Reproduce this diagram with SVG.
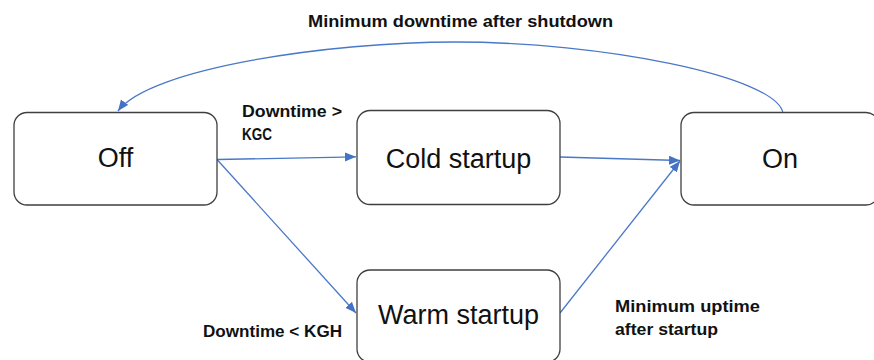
<svg xmlns="http://www.w3.org/2000/svg" width="874" height="360" viewBox="0 0 874 360">
  <style>
    .node rect { fill: #ffffff; stroke: #3f3f3f; stroke-width: 1.3; }
    .node text { font-family: "Liberation Sans", Arial, sans-serif; font-size: 27px; fill: #111111; text-anchor: middle; }
    .edge { fill: none; stroke: #4a78c8; stroke-width: 1.3; }
    .lbl { font-family: "Liberation Sans", Arial, sans-serif; font-size: 17px; font-weight: bold; fill: #111111; }
  </style>
  <defs>
    <marker id="arrow" markerUnits="userSpaceOnUse" markerWidth="12" markerHeight="10" refX="11" refY="4.5" orient="auto">
      <path d="M0,0 L11,4.5 L0,9 z" fill="#4472c4"/>
    </marker>
  </defs>
  <rect width="874" height="360" fill="#ffffff"/>

  <g id="connectors">
    <path class="edge" d="M217,159.5 L356,156.8" marker-end="url(#arrow)"/>
    <path class="edge" d="M217,159.5 L356,313" marker-end="url(#arrow)"/>
    <path class="edge" d="M560,157 L680,160.5" marker-end="url(#arrow)"/>
    <path class="edge" d="M560,313 L680,161" marker-end="url(#arrow)"/>
    <path class="edge" d="M783,113 C776,76 600,42 455,42 C330,42 150,68 118,111" marker-end="url(#arrow)"/>
  </g>

  <g id="labels">
    <text class="lbl" x="308" y="27" font-size="18" textLength="305" lengthAdjust="spacingAndGlyphs">Minimum downtime after shutdown</text>
    <text class="lbl" x="242" y="117" textLength="100" lengthAdjust="spacingAndGlyphs">Downtime &gt;</text>
    <text class="lbl" x="242" y="140" textLength="30" lengthAdjust="spacingAndGlyphs">KGC</text>
    <text class="lbl" x="203" y="337" textLength="139" lengthAdjust="spacingAndGlyphs">Downtime &lt; KGH</text>
    <text class="lbl" x="615" y="312" textLength="145" lengthAdjust="spacingAndGlyphs">Minimum uptime</text>
    <text class="lbl" x="615" y="335" textLength="103" lengthAdjust="spacingAndGlyphs">after startup</text>
  </g>

  <g id="node-off" class="node">
    <rect x="14" y="112.5" width="203" height="92.5" rx="13"/>
    <text x="115.5" y="167">Off</text>
  </g>
  <g id="node-cold" class="node">
    <rect x="357" y="110.5" width="203" height="94" rx="13"/>
    <text x="458.5" y="167.5">Cold startup</text>
  </g>
  <g id="node-on" class="node">
    <rect x="681" y="112.5" width="198" height="92.5" rx="13"/>
    <text x="780" y="167.5">On</text>
  </g>
  <g id="node-warm" class="node">
    <rect x="357" y="270" width="203" height="92" rx="13"/>
    <text x="458.5" y="324">Warm startup</text>
  </g>
</svg>
